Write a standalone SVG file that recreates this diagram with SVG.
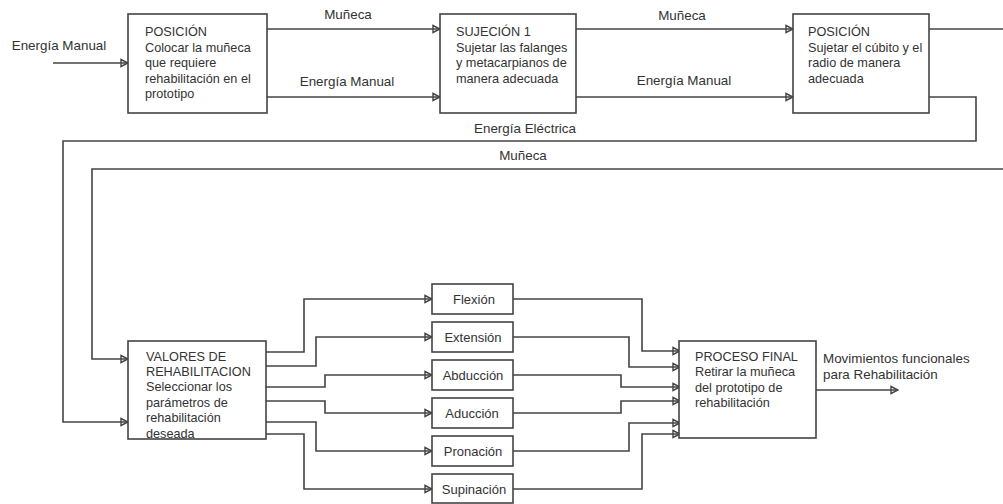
<svg xmlns="http://www.w3.org/2000/svg" width="1003" height="504" viewBox="0 0 1003 504">
<style>
text{font-family:"Liberation Sans",Arial,sans-serif;font-size:12.7px;fill:#333}
.lbl{font-size:13.4px}
.sm{font-size:13px}
.box{fill:#fff;stroke:#444;stroke-width:1.6}
.c{fill:none;stroke:#444;stroke-width:1.6}
.m{text-anchor:middle}
</style>
<defs>
<marker id="ar" markerUnits="userSpaceOnUse" markerWidth="10" markerHeight="10" refX="9" refY="5" orient="auto" viewBox="0 0 10 10">
<path d="M2,1.5 L9,5 L2,8.5 Z" fill="none" stroke="#444" stroke-width="1.4"/>
</marker>
</defs>
<rect width="1003" height="504" fill="#fff"/>
<g id="connectors">
<path class="c" d="M53,63 H128" marker-end="url(#ar)"/>
<path class="c" d="M267,29 H440" marker-end="url(#ar)"/>
<path class="c" d="M267,97 H440" marker-end="url(#ar)"/>
<path class="c" d="M576,29 H793" marker-end="url(#ar)"/>
<path class="c" d="M576,97 H793" marker-end="url(#ar)"/>
<path class="c" d="M929,29 H1003"/>
<path class="c" d="M929,97 H976 V141 H63 V422 H128" marker-end="url(#ar)"/>
<path class="c" d="M1003,169 H92 V359 H128" marker-end="url(#ar)"/>
<path class="c" d="M266,352 H304 V299 H432" marker-end="url(#ar)"/>
<path class="c" d="M266,366 H316 V337 H432" marker-end="url(#ar)"/>
<path class="c" d="M266,387 H325 V375 H432" marker-end="url(#ar)"/>
<path class="c" d="M266,401 H325 V413 H432" marker-end="url(#ar)"/>
<path class="c" d="M266,422 H316 V451 H432" marker-end="url(#ar)"/>
<path class="c" d="M266,434 H304 V489 H432" marker-end="url(#ar)"/>
<path class="c" d="M513,299 H642 V351 H680" marker-end="url(#ar)"/>
<path class="c" d="M513,337 H629 V367 H680" marker-end="url(#ar)"/>
<path class="c" d="M513,375 H621 V387 H680" marker-end="url(#ar)"/>
<path class="c" d="M513,413 H621 V401 H680" marker-end="url(#ar)"/>
<path class="c" d="M513,451 H629 V423 H680" marker-end="url(#ar)"/>
<path class="c" d="M513,489 H642 V434 H680" marker-end="url(#ar)"/>
<path class="c" d="M816,390 H898" marker-end="url(#ar)"/>
<text x="59" y="50" class="m lbl">Energía Manual</text>
<text x="348" y="19" class="m lbl">Muñeca</text>
<text x="347" y="86" class="m lbl">Energía Manual</text>
<text x="682" y="20" class="m lbl">Muñeca</text>
<text x="684" y="85" class="m lbl">Energía Manual</text>
<text x="525" y="133" class="m lbl">Energía Eléctrica</text>
<text x="523" y="160" class="m lbl">Muñeca</text>
<text x="823" y="363" class="lbl">Movimientos funcionales</text>
<text x="823" y="379" class="lbl">para Rehabilitación</text>
</g>
<g id="posicion1">
<rect class="box" x="128" y="14" width="139" height="99"/>
<text x="145" y="36">POSICIÓN</text>
<text x="145" y="52">Colocar la muñeca</text>
<text x="145" y="67">que requiere</text>
<text x="145" y="83">rehabilitación en el</text>
<text x="145" y="98">prototipo</text>
</g>
<g id="sujecion1">
<rect class="box" x="440" y="14" width="136" height="99"/>
<text x="456" y="36">SUJECIÓN 1</text>
<text x="456" y="52">Sujetar las falanges</text>
<text x="456" y="67">y metacarpianos de</text>
<text x="456" y="83">manera adecuada</text>
</g>
<g id="posicion2">
<rect class="box" x="793" y="14" width="136" height="99"/>
<text x="808" y="36">POSICIÓN</text>
<text x="808" y="52">Sujetar el cúbito y el</text>
<text x="808" y="67">radio de manera</text>
<text x="808" y="83">adecuada</text>
</g>
<g id="valores">
<rect class="box" x="128" y="341" width="138" height="98"/>
<text x="146" y="361">VALORES DE</text>
<text x="146" y="376">REHABILITACION</text>
<text x="146" y="391">Seleccionar los</text>
<text x="146" y="407">parámetros de</text>
<text x="146" y="422">rehabilitación</text>
<text x="146" y="438">deseada</text>
</g>
<g id="flexion"><rect class="box" x="432" y="284" width="81" height="30"/><text x="474" y="304" class="m sm">Flexión</text></g>
<g id="extension"><rect class="box" x="432" y="322" width="81" height="30"/><text x="473" y="342" class="m sm">Extensión</text></g>
<g id="abduccion"><rect class="box" x="432" y="360" width="81" height="30"/><text x="473" y="380" class="m sm">Abducción</text></g>
<g id="aduccion"><rect class="box" x="432" y="398" width="81" height="30"/><text x="472" y="418" class="m sm">Aducción</text></g>
<g id="pronacion"><rect class="box" x="432" y="436" width="81" height="30"/><text x="473" y="456" class="m sm">Pronación</text></g>
<g id="supinacion"><rect class="box" x="432" y="474" width="81" height="29"/><text x="474" y="494" class="m sm">Supinación</text></g>
<g id="procesofinal">
<rect class="box" x="679" y="341" width="137" height="97"/>
<text x="695" y="361">PROCESO FINAL</text>
<text x="695" y="376">Retirar la muñeca</text>
<text x="695" y="392">del prototipo de</text>
<text x="695" y="407">rehabilitación</text>
</g>
</svg>
